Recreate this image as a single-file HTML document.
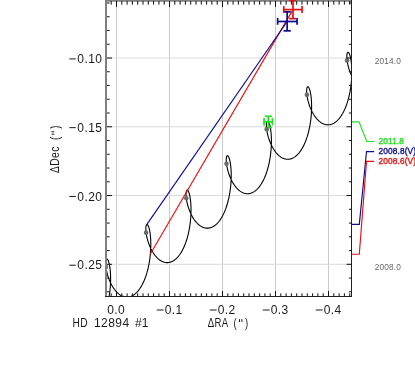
<!DOCTYPE html>
<html><head><meta charset="utf-8"><title>HD 12894 #1</title>
<style>
html,body{margin:0;padding:0;background:#fff;}
body{width:415px;height:391px;overflow:hidden;font-family:"Liberation Sans",sans-serif;}
svg{display:block;will-change:transform;}
text{font-family:"Liberation Sans",sans-serif;}
</style></head><body>
<svg width="415" height="391" viewBox="0 0 415 391">
<rect width="415" height="391" fill="#fff"/>
<defs><clipPath id="c"><rect x="106.0" y="1.0" width="245.5" height="295.5"/></clipPath></defs>
<g stroke="#cfcfcf" stroke-width="1" fill="none">
<line x1="116.50" x2="116.50" y1="1.0" y2="296.5" stroke="#cbcbcb"/>
<line x1="169.50" x2="169.50" y1="1.0" y2="296.5" stroke="#cbcbcb"/>
<line x1="222.50" x2="222.50" y1="1.0" y2="296.5" stroke="#cbcbcb"/>
<line x1="275.50" x2="275.50" y1="1.0" y2="296.5" stroke="#cbcbcb"/>
<line x1="328.50" x2="328.50" y1="1.0" y2="296.5" stroke="#cbcbcb"/>
<line x1="106.0" x2="351.5" y1="58.00" y2="58.00" stroke="#dadada"/>
<line x1="106.0" x2="351.5" y1="126.77" y2="126.77" stroke="#dadada"/>
<line x1="106.0" x2="351.5" y1="195.54" y2="195.54" stroke="#dadada"/>
<line x1="106.0" x2="351.5" y1="264.31" y2="264.31" stroke="#dadada"/>
</g>
<g clip-path="url(#c)">
<path d="M86.70,331.52 L87.13,331.52 L87.55,331.49 L87.97,331.45 L88.40,331.40 L88.82,331.32 L89.24,331.23 L89.66,331.13 L90.08,331.00 L90.50,330.86 L90.92,330.71 L91.34,330.53 L91.75,330.34 L92.17,330.14 L92.58,329.91 L92.99,329.67 L93.40,329.42 L93.81,329.14 L94.21,328.85 L94.61,328.55 L95.01,328.23 L95.41,327.89 L95.80,327.53 L96.19,327.17 L96.58,326.78 L96.96,326.38 L97.34,325.97 L97.72,325.54 L98.09,325.09 L98.46,324.63 L98.83,324.16 L99.19,323.67 L99.54,323.17 L99.90,322.66 L100.25,322.13 L100.59,321.58 L100.93,321.03 L101.26,320.46 L101.59,319.88 L101.92,319.29 L102.24,318.68 L102.55,318.07 L102.86,317.44 L103.16,316.80 L103.46,316.15 L103.75,315.49 L104.04,314.82 L104.32,314.14 L104.60,313.46 L104.87,312.76 L105.13,312.05 L105.39,311.33 L105.64,310.61 L105.89,309.88 L106.13,309.14 L106.36,308.40 L106.59,307.64 L106.81,306.88 L107.03,306.12 L107.24,305.35 L107.44,304.57 L107.64,303.79 L107.83,303.01 L108.01,302.22 L108.19,301.43 L108.36,300.63 L108.53,299.84 L108.68,299.04 L108.84,298.23 L108.98,297.43 L109.12,296.62 L109.25,295.82 L109.38,295.01 L109.50,294.20 L109.61,293.40 L109.72,292.59 L109.82,291.79 L109.92,290.98 L110.00,290.18 L110.09,289.38 L110.16,288.59 L110.23,287.80 L110.30,287.01 L110.35,286.22 L110.41,285.44 L110.45,284.67 L110.49,283.89 L110.53,283.13 L110.55,282.37 L110.58,281.62 L110.60,280.87 L110.61,280.13 L110.61,279.40 L110.62,278.68 L110.61,277.96 L110.60,277.26 L110.59,276.56 L110.57,275.87 L110.55,275.19 L110.52,274.52 L110.49,273.87 L110.45,273.22 L110.41,272.58 L110.36,271.96 L110.31,271.34 L110.26,270.74 L110.20,270.15 L110.14,269.58 L110.08,269.01 L110.01,268.46 L109.94,267.92 L109.86,267.40 L109.79,266.89 L109.71,266.39 L109.62,265.91 L109.54,265.45 L109.45,265.00 L109.36,264.56 L109.27,264.14 L109.18,263.73 L109.08,263.34 L108.98,262.97 L108.88,262.61 L108.78,262.27 L108.68,261.94 L108.58,261.64 L108.48,261.34 L108.37,261.07 L108.27,260.81 L108.16,260.57 L108.06,260.34 L107.96,260.14 L107.85,259.95 L107.75,259.77 L107.65,259.62 L107.54,259.48 L107.44,259.36 L107.34,259.25 L107.24,259.17 L107.14,259.10 L107.05,259.05 L106.95,259.01 L106.86,259.00 L106.77,259.00 L106.68,259.01 L106.60,259.05 L106.51,259.10 L106.43,259.17 L106.36,259.25 L106.28,259.35 L106.21,259.47 L106.14,259.60 L106.08,259.75 L106.02,259.92 L105.96,260.10 L105.91,260.30 L105.86,260.51 L105.82,260.74 L105.78,260.98 L105.74,261.24 L105.71,261.51 L105.69,261.79 L105.67,262.09 L105.65,262.41 L105.64,262.73 L105.64,263.07 L105.64,263.42 L105.64,263.79 L105.65,264.16 L105.67,264.55 L105.69,264.95 L105.72,265.36 L105.76,265.78 L105.80,266.21 L105.85,266.65 L105.90,267.10 L105.96,267.56 L106.03,268.03 L106.10,268.50 L106.18,268.99 L106.26,269.48 L106.35,269.98 L106.45,270.48 L106.56,270.99 L106.67,271.51 L106.79,272.03 L106.92,272.56 L107.05,273.09 L107.19,273.63 L107.33,274.16 L107.49,274.71 L107.65,275.25 L107.81,275.80 L107.99,276.35 L108.17,276.90 L108.35,277.45 L108.55,278.00 L108.75,278.55 L108.96,279.10 L109.17,279.65 L109.39,280.20 L109.62,280.75 L109.85,281.29 L110.09,281.83 L110.34,282.37 L110.59,282.90 L110.85,283.43 L111.12,283.96 L111.39,284.48 L111.67,284.99 L111.95,285.50 L112.24,286.01 L112.54,286.50 L112.84,286.99 L113.15,287.48 L113.46,287.95 L113.78,288.42 L114.10,288.87 L114.43,289.32 L114.77,289.76 L115.10,290.19 L115.45,290.61 L115.80,291.02 L116.15,291.41 L116.51,291.80 L116.87,292.18 L117.23,292.54 L117.61,292.89 L117.98,293.23 L118.36,293.56 L118.74,293.87 L119.12,294.17 L119.51,294.46 L119.90,294.73 L120.30,294.99 L120.70,295.23 L121.10,295.46 L121.50,295.68 L121.91,295.88 L122.31,296.07 L122.72,296.24 L123.14,296.39 L123.55,296.53 L123.97,296.66 L124.38,296.76 L124.80,296.86 L125.22,296.93 L125.64,296.99 L126.06,297.03 L126.48,297.06 L126.91,297.07 L127.33,297.07 L127.75,297.04 L128.17,297.00 L128.60,296.95 L129.02,296.87 L129.44,296.78 L129.86,296.68 L130.28,296.55 L130.70,296.41 L131.12,296.26 L131.54,296.08 L131.95,295.89 L132.37,295.69 L132.78,295.46 L133.19,295.22 L133.60,294.96 L134.01,294.69 L134.41,294.40 L134.81,294.10 L135.21,293.77 L135.61,293.44 L136.00,293.08 L136.39,292.71 L136.78,292.33 L137.16,291.93 L137.54,291.52 L137.92,291.09 L138.29,290.64 L138.66,290.18 L139.03,289.71 L139.39,289.22 L139.75,288.72 L140.10,288.20 L140.45,287.67 L140.79,287.13 L141.13,286.58 L141.46,286.01 L141.79,285.43 L142.12,284.84 L142.44,284.23 L142.75,283.62 L143.06,282.99 L143.36,282.35 L143.66,281.70 L143.95,281.04 L144.24,280.37 L144.52,279.69 L144.80,279.00 L145.07,278.30 L145.33,277.60 L145.59,276.88 L145.84,276.16 L146.09,275.43 L146.33,274.69 L146.57,273.94 L146.79,273.19 L147.02,272.43 L147.23,271.67 L147.44,270.90 L147.64,270.12 L147.84,269.34 L148.03,268.56 L148.21,267.77 L148.39,266.98 L148.56,266.18 L148.73,265.38 L148.88,264.58 L149.04,263.78 L149.18,262.97 L149.32,262.17 L149.45,261.36 L149.58,260.56 L149.70,259.75 L149.81,258.94 L149.92,258.14 L150.02,257.33 L150.11,256.53 L150.20,255.73 L150.29,254.93 L150.36,254.13 L150.43,253.34 L150.49,252.55 L150.55,251.77 L150.60,250.99 L150.65,250.21 L150.69,249.44 L150.72,248.68 L150.75,247.92 L150.78,247.16 L150.79,246.42 L150.81,245.68 L150.81,244.95 L150.81,244.23 L150.81,243.51 L150.80,242.80 L150.79,242.11 L150.77,241.42 L150.75,240.74 L150.72,240.07 L150.69,239.41 L150.65,238.77 L150.61,238.13 L150.56,237.50 L150.51,236.89 L150.46,236.29 L150.40,235.70 L150.34,235.12 L150.28,234.56 L150.21,234.01 L150.14,233.47 L150.06,232.95 L149.99,232.44 L149.91,231.94 L149.82,231.46 L149.74,231.00 L149.65,230.54 L149.56,230.11 L149.47,229.69 L149.37,229.28 L149.28,228.89 L149.18,228.52 L149.08,228.16 L148.98,227.82 L148.88,227.49 L148.78,227.18 L148.68,226.89 L148.57,226.62 L148.47,226.36 L148.36,226.12 L148.26,225.89 L148.15,225.69 L148.05,225.50 L147.95,225.32 L147.84,225.17 L147.74,225.03 L147.64,224.91 L147.54,224.81 L147.44,224.72 L147.34,224.65 L147.25,224.60 L147.15,224.56 L147.06,224.55 L146.97,224.55 L146.88,224.57 L146.80,224.60 L146.71,224.65 L146.63,224.72 L146.56,224.80 L146.48,224.90 L146.41,225.02 L146.34,225.16 L146.28,225.31 L146.22,225.47 L146.16,225.65 L146.11,225.85 L146.06,226.06 L146.02,226.29 L145.98,226.53 L145.94,226.79 L145.91,227.06 L145.89,227.35 L145.87,227.65 L145.85,227.96 L145.84,228.28 L145.84,228.62 L145.84,228.97 L145.84,229.34 L145.85,229.71 L145.87,230.10 L145.89,230.50 L145.92,230.91 L145.96,231.33 L146.00,231.76 L146.05,232.20 L146.10,232.65 L146.16,233.11 L146.23,233.58 L146.30,234.06 L146.38,234.54 L146.46,235.03 L146.55,235.53 L146.65,236.03 L146.76,236.55 L146.87,237.06 L146.99,237.58 L147.12,238.11 L147.25,238.64 L147.39,239.18 L147.53,239.72 L147.69,240.26 L147.85,240.81 L148.01,241.35 L148.19,241.90 L148.37,242.45 L148.56,243.00 L148.75,243.55 L148.95,244.10 L149.16,244.66 L149.37,245.20 L149.59,245.75 L149.82,246.30 L150.05,246.84 L150.29,247.38 L150.54,247.92 L150.79,248.46 L151.05,248.99 L151.32,249.51 L151.59,250.03 L151.87,250.55 L152.15,251.06 L152.44,251.56 L152.74,252.06 L153.04,252.55 L153.35,253.03 L153.66,253.50 L153.98,253.97 L154.30,254.43 L154.63,254.87 L154.97,255.31 L155.30,255.74 L155.65,256.16 L156.00,256.57 L156.35,256.97 L156.71,257.35 L157.07,257.73 L157.44,258.09 L157.81,258.44 L158.18,258.78 L158.56,259.11 L158.94,259.42 L159.33,259.72 L159.71,260.01 L160.11,260.28 L160.50,260.54 L160.90,260.78 L161.30,261.01 L161.70,261.23 L162.11,261.43 L162.52,261.62 L162.93,261.79 L163.34,261.94 L163.75,262.08 L164.17,262.21 L164.58,262.31 L165.00,262.41 L165.42,262.48 L165.84,262.54 L166.26,262.59 L166.68,262.61 L167.11,262.62 L167.53,262.62 L167.95,262.59 L168.38,262.55 L168.80,262.50 L169.22,262.42 L169.64,262.33 L170.06,262.23 L170.48,262.10 L170.90,261.96 L171.32,261.81 L171.74,261.63 L172.16,261.44 L172.57,261.23 L172.98,261.01 L173.39,260.77 L173.80,260.51 L174.21,260.24 L174.61,259.95 L175.01,259.65 L175.41,259.32 L175.81,258.99 L176.20,258.63 L176.59,258.26 L176.98,257.88 L177.36,257.48 L177.74,257.06 L178.12,256.63 L178.49,256.19 L178.86,255.73 L179.23,255.26 L179.59,254.77 L179.95,254.27 L180.30,253.75 L180.65,253.22 L180.99,252.68 L181.33,252.12 L181.66,251.56 L181.99,250.98 L182.32,250.38 L182.64,249.78 L182.95,249.16 L183.26,248.53 L183.56,247.90 L183.86,247.25 L184.16,246.59 L184.44,245.92 L184.72,245.24 L185.00,244.55 L185.27,243.85 L185.53,243.14 L185.79,242.43 L186.05,241.70 L186.29,240.97 L186.53,240.23 L186.77,239.49 L186.99,238.74 L187.22,237.98 L187.43,237.21 L187.64,236.44 L187.84,235.67 L188.04,234.89 L188.23,234.10 L188.41,233.31 L188.59,232.52 L188.76,231.73 L188.93,230.93 L189.08,230.13 L189.24,229.33 L189.38,228.52 L189.52,227.72 L189.65,226.91 L189.78,226.10 L189.90,225.30 L190.01,224.49 L190.12,223.68 L190.22,222.88 L190.31,222.08 L190.40,221.27 L190.48,220.48 L190.56,219.68 L190.63,218.89 L190.69,218.10 L190.75,217.31 L190.80,216.53 L190.85,215.76 L190.89,214.99 L190.92,214.22 L190.95,213.46 L190.98,212.71 L190.99,211.97 L191.01,211.23 L191.01,210.50 L191.01,209.77 L191.01,209.06 L191.00,208.35 L190.99,207.65 L190.97,206.96 L190.95,206.29 L190.92,205.62 L190.89,204.96 L190.85,204.31 L190.81,203.68 L190.76,203.05 L190.71,202.44 L190.66,201.84 L190.60,201.25 L190.54,200.67 L190.48,200.11 L190.41,199.56 L190.34,199.02 L190.26,198.50 L190.19,197.99 L190.10,197.49 L190.02,197.01 L189.94,196.54 L189.85,196.09 L189.76,195.66 L189.67,195.23 L189.57,194.83 L189.48,194.44 L189.38,194.07 L189.28,193.71 L189.18,193.37 L189.08,193.04 L188.98,192.73 L188.87,192.44 L188.77,192.17 L188.67,191.91 L188.56,191.67 L188.46,191.44 L188.35,191.24 L188.25,191.05 L188.15,190.87 L188.04,190.72 L187.94,190.58 L187.84,190.46 L187.74,190.36 L187.64,190.27 L187.54,190.20 L187.45,190.15 L187.35,190.12 L187.26,190.10 L187.17,190.10 L187.08,190.12 L187.00,190.15 L186.91,190.20 L186.83,190.27 L186.75,190.35 L186.68,190.46 L186.61,190.57 L186.54,190.71 L186.48,190.86 L186.42,191.02 L186.36,191.20 L186.31,191.40 L186.26,191.61 L186.22,191.84 L186.18,192.08 L186.14,192.34 L186.11,192.61 L186.09,192.90 L186.07,193.20 L186.05,193.51 L186.04,193.84 L186.04,194.18 L186.04,194.53 L186.04,194.89 L186.05,195.27 L186.07,195.66 L186.09,196.05 L186.12,196.46 L186.16,196.88 L186.20,197.32 L186.25,197.76 L186.30,198.21 L186.36,198.66 L186.42,199.13 L186.50,199.61 L186.58,200.09 L186.66,200.58 L186.75,201.08 L186.85,201.59 L186.96,202.10 L187.07,202.62 L187.19,203.14 L187.32,203.67 L187.45,204.20 L187.59,204.73 L187.73,205.27 L187.89,205.81 L188.05,206.36 L188.21,206.91 L188.39,207.45 L188.57,208.00 L188.76,208.56 L188.95,209.11 L189.15,209.66 L189.36,210.21 L189.57,210.76 L189.79,211.31 L190.02,211.85 L190.25,212.40 L190.49,212.94 L190.74,213.48 L190.99,214.01 L191.25,214.54 L191.52,215.07 L191.79,215.59 L192.07,216.10 L192.35,216.61 L192.64,217.11 L192.94,217.61 L193.24,218.10 L193.55,218.58 L193.86,219.06 L194.18,219.52 L194.50,219.98 L194.83,220.43 L195.17,220.86 L195.51,221.29 L195.85,221.71 L196.20,222.12 L196.55,222.52 L196.91,222.91 L197.27,223.28 L197.64,223.64 L198.01,224.00 L198.38,224.33 L198.76,224.66 L199.14,224.97 L199.53,225.27 L199.92,225.56 L200.31,225.83 L200.70,226.09 L201.10,226.34 L201.50,226.57 L201.90,226.78 L202.31,226.98 L202.72,227.17 L203.13,227.34 L203.54,227.49 L203.95,227.63 L204.37,227.76 L204.78,227.87 L205.20,227.96 L205.62,228.03 L206.04,228.09 L206.46,228.14 L206.89,228.16 L207.31,228.17 L207.73,228.17 L208.15,228.14 L208.58,228.10 L209.00,228.05 L209.42,227.97 L209.84,227.88 L210.27,227.78 L210.69,227.65 L211.11,227.51 L211.52,227.36 L211.94,227.18 L212.36,226.99 L212.77,226.78 L213.18,226.56 L213.59,226.32 L214.00,226.06 L214.41,225.79 L214.81,225.50 L215.22,225.19 L215.61,224.87 L216.01,224.53 L216.40,224.18 L216.79,223.81 L217.18,223.43 L217.57,223.03 L217.95,222.61 L218.32,222.18 L218.70,221.74 L219.06,221.28 L219.43,220.80 L219.79,220.32 L220.15,219.81 L220.50,219.30 L220.85,218.77 L221.19,218.23 L221.53,217.67 L221.87,217.10 L222.19,216.52 L222.52,215.93 L222.84,215.33 L223.15,214.71 L223.46,214.08 L223.77,213.44 L224.06,212.79 L224.36,212.13 L224.64,211.46 L224.93,210.78 L225.20,210.10 L225.47,209.40 L225.74,208.69 L225.99,207.97 L226.25,207.25 L226.49,206.52 L226.73,205.78 L226.97,205.04 L227.19,204.28 L227.42,203.52 L227.63,202.76 L227.84,201.99 L228.04,201.21 L228.24,200.43 L228.43,199.65 L228.61,198.86 L228.79,198.07 L228.96,197.27 L229.13,196.47 L229.28,195.67 L229.44,194.87 L229.58,194.07 L229.72,193.26 L229.85,192.45 L229.98,191.65 L230.10,190.84 L230.21,190.03 L230.32,189.23 L230.42,188.42 L230.51,187.62 L230.60,186.82 L230.68,186.02 L230.76,185.23 L230.83,184.43 L230.89,183.65 L230.95,182.86 L231.00,182.08 L231.05,181.30 L231.09,180.53 L231.12,179.77 L231.15,179.01 L231.18,178.26 L231.19,177.51 L231.20,176.77 L231.21,176.04 L231.21,175.32 L231.21,174.60 L231.20,173.90 L231.19,173.20 L231.17,172.51 L231.15,171.83 L231.12,171.16 L231.08,170.51 L231.05,169.86 L231.01,169.22 L230.96,168.60 L230.91,167.98 L230.86,167.38 L230.80,166.79 L230.74,166.22 L230.67,165.65 L230.61,165.10 L230.54,164.57 L230.46,164.04 L230.38,163.53 L230.30,163.04 L230.22,162.56 L230.14,162.09 L230.05,161.64 L229.96,161.20 L229.87,160.78 L229.77,160.38 L229.68,159.99 L229.58,159.61 L229.48,159.26 L229.38,158.92 L229.28,158.59 L229.18,158.28 L229.07,157.99 L228.97,157.72 L228.86,157.46 L228.76,157.22 L228.66,156.99 L228.55,156.78 L228.45,156.60 L228.34,156.42 L228.24,156.27 L228.14,156.13 L228.04,156.01 L227.94,155.91 L227.84,155.82 L227.74,155.75 L227.64,155.70 L227.55,155.67 L227.46,155.65 L227.37,155.65 L227.28,155.67 L227.19,155.70 L227.11,155.75 L227.03,155.82 L226.95,155.91 L226.88,156.01 L226.81,156.12 L226.74,156.26 L226.68,156.41 L226.62,156.57 L226.56,156.76 L226.51,156.95 L226.46,157.17 L226.42,157.39 L226.38,157.64 L226.34,157.89 L226.31,158.16 L226.29,158.45 L226.27,158.75 L226.25,159.06 L226.24,159.39 L226.23,159.73 L226.24,160.08 L226.24,160.44 L226.25,160.82 L226.27,161.21 L226.29,161.61 L226.32,162.02 L226.36,162.44 L226.40,162.87 L226.44,163.31 L226.50,163.76 L226.56,164.22 L226.62,164.69 L226.70,165.16 L226.78,165.65 L226.86,166.14 L226.95,166.64 L227.05,167.14 L227.16,167.65 L227.27,168.17 L227.39,168.69 L227.52,169.22 L227.65,169.75 L227.79,170.29 L227.93,170.83 L228.09,171.37 L228.25,171.91 L228.41,172.46 L228.59,173.01 L228.77,173.56 L228.96,174.11 L229.15,174.66 L229.35,175.21 L229.56,175.76 L229.77,176.31 L229.99,176.86 L230.22,177.41 L230.45,177.95 L230.69,178.49 L230.94,179.03 L231.20,179.56 L231.45,180.09 L231.72,180.62 L231.99,181.14 L232.27,181.65 L232.56,182.16 L232.85,182.67 L233.14,183.16 L233.44,183.65 L233.75,184.13 L234.06,184.61 L234.38,185.07 L234.71,185.53 L235.03,185.98 L235.37,186.42 L235.71,186.85 L236.05,187.27 L236.40,187.67 L236.75,188.07 L237.11,188.46 L237.47,188.83 L237.84,189.20 L238.21,189.55 L238.58,189.89 L238.96,190.21 L239.34,190.53 L239.73,190.83 L240.12,191.11 L240.51,191.38 L240.90,191.64 L241.30,191.89 L241.70,192.12 L242.10,192.33 L242.51,192.53 L242.92,192.72 L243.33,192.89 L243.74,193.05 L244.15,193.19 L244.57,193.31 L244.99,193.42 L245.40,193.51 L245.82,193.58 L246.24,193.64 L246.67,193.69 L247.09,193.71 L247.51,193.72 L247.93,193.72 L248.36,193.69 L248.78,193.65 L249.20,193.60 L249.62,193.52 L250.05,193.43 L250.47,193.33 L250.89,193.20 L251.31,193.06 L251.73,192.91 L252.14,192.73 L252.56,192.54 L252.97,192.33 L253.39,192.11 L253.80,191.87 L254.20,191.61 L254.61,191.34 L255.02,191.05 L255.42,190.74 L255.82,190.42 L256.21,190.08 L256.61,189.73 L257.00,189.36 L257.38,188.98 L257.77,188.58 L258.15,188.16 L258.52,187.73 L258.90,187.29 L259.27,186.83 L259.63,186.35 L259.99,185.86 L260.35,185.36 L260.70,184.85 L261.05,184.32 L261.39,183.77 L261.73,183.22 L262.07,182.65 L262.40,182.07 L262.72,181.48 L263.04,180.87 L263.35,180.26 L263.66,179.63 L263.97,178.99 L264.26,178.34 L264.56,177.68 L264.84,177.01 L265.13,176.33 L265.40,175.64 L265.67,174.94 L265.94,174.24 L266.19,173.52 L266.45,172.80 L266.69,172.07 L266.93,171.33 L267.17,170.58 L267.39,169.83 L267.62,169.07 L267.83,168.31 L268.04,167.54 L268.24,166.76 L268.44,165.98 L268.63,165.20 L268.81,164.41 L268.99,163.61 L269.16,162.82 L269.33,162.02 L269.48,161.22 L269.64,160.42 L269.78,159.61 L269.92,158.81 L270.05,158.00 L270.18,157.19 L270.30,156.39 L270.41,155.58 L270.52,154.78 L270.62,153.97 L270.71,153.17 L270.80,152.37 L270.88,151.57 L270.96,150.77 L271.03,149.98 L271.09,149.19 L271.15,148.41 L271.20,147.63 L271.25,146.85 L271.29,146.08 L271.32,145.32 L271.35,144.56 L271.37,143.80 L271.39,143.06 L271.40,142.32 L271.41,141.59 L271.41,140.87 L271.41,140.15 L271.40,139.44 L271.39,138.75 L271.37,138.06 L271.34,137.38 L271.32,136.71 L271.28,136.05 L271.25,135.41 L271.21,134.77 L271.16,134.15 L271.11,133.53 L271.06,132.93 L271.00,132.34 L270.94,131.77 L270.87,131.20 L270.81,130.65 L270.73,130.11 L270.66,129.59 L270.58,129.08 L270.50,128.59 L270.42,128.11 L270.33,127.64 L270.25,127.19 L270.16,126.75 L270.06,126.33 L269.97,125.93 L269.87,125.54 L269.78,125.16 L269.68,124.81 L269.58,124.46 L269.48,124.14 L269.37,123.83 L269.27,123.54 L269.17,123.26 L269.06,123.01 L268.96,122.77 L268.85,122.54 L268.75,122.33 L268.65,122.14 L268.54,121.97 L268.44,121.82 L268.34,121.68 L268.24,121.56 L268.14,121.46 L268.04,121.37 L267.94,121.30 L267.84,121.25 L267.75,121.22 L267.66,121.20 L267.57,121.20 L267.48,121.22 L267.39,121.25 L267.31,121.30 L267.23,121.37 L267.15,121.46 L267.08,121.56 L267.01,121.68 L266.94,121.81 L266.88,121.96 L266.82,122.13 L266.76,122.31 L266.71,122.51 L266.66,122.72 L266.62,122.95 L266.58,123.19 L266.54,123.45 L266.51,123.72 L266.49,124.00 L266.46,124.30 L266.45,124.62 L266.44,124.94 L266.43,125.28 L266.43,125.63 L266.44,126.00 L266.45,126.37 L266.47,126.76 L266.49,127.16 L266.52,127.57 L266.56,127.99 L266.60,128.42 L266.64,128.86 L266.70,129.31 L266.76,129.77 L266.82,130.24 L266.90,130.72 L266.98,131.20 L267.06,131.69 L267.15,132.19 L267.25,132.69 L267.36,133.21 L267.47,133.72 L267.59,134.24 L267.72,134.77 L267.85,135.30 L267.99,135.84 L268.13,136.38 L268.29,136.92 L268.45,137.47 L268.61,138.01 L268.79,138.56 L268.97,139.11 L269.16,139.66 L269.35,140.21 L269.55,140.77 L269.76,141.32 L269.97,141.87 L270.19,142.41 L270.42,142.96 L270.65,143.50 L270.90,144.04 L271.14,144.58 L271.40,145.12 L271.66,145.65 L271.92,146.17 L272.19,146.69 L272.47,147.21 L272.76,147.72 L273.05,148.22 L273.34,148.72 L273.64,149.21 L273.95,149.69 L274.26,150.16 L274.58,150.63 L274.91,151.08 L275.23,151.53 L275.57,151.97 L275.91,152.40 L276.25,152.82 L276.60,153.23 L276.95,153.62 L277.31,154.01 L277.67,154.39 L278.04,154.75 L278.41,155.10 L278.78,155.44 L279.16,155.76 L279.54,156.08 L279.93,156.38 L280.32,156.66 L280.71,156.94 L281.10,157.20 L281.50,157.44 L281.90,157.67 L282.31,157.89 L282.71,158.09 L283.12,158.27 L283.53,158.44 L283.94,158.60 L284.36,158.74 L284.77,158.86 L285.19,158.97 L285.61,159.06 L286.03,159.14 L286.45,159.19 L286.87,159.24 L287.29,159.26 L287.71,159.27 L288.13,159.27 L288.56,159.24 L288.98,159.20 L289.40,159.15 L289.83,159.07 L290.25,158.98 L290.67,158.88 L291.09,158.75 L291.51,158.61 L291.93,158.46 L292.34,158.28 L292.76,158.09 L293.17,157.88 L293.59,157.66 L294.00,157.42 L294.41,157.16 L294.81,156.89 L295.22,156.60 L295.62,156.29 L296.02,155.97 L296.41,155.63 L296.81,155.28 L297.20,154.91 L297.58,154.52 L297.97,154.12 L298.35,153.71 L298.72,153.28 L299.10,152.83 L299.47,152.37 L299.83,151.90 L300.19,151.41 L300.55,150.91 L300.90,150.39 L301.25,149.86 L301.59,149.32 L301.93,148.77 L302.27,148.20 L302.60,147.62 L302.92,147.03 L303.24,146.42 L303.55,145.80 L303.86,145.18 L304.17,144.54 L304.47,143.89 L304.76,143.23 L305.04,142.56 L305.33,141.88 L305.60,141.19 L305.87,140.49 L306.14,139.78 L306.39,139.07 L306.65,138.34 L306.89,137.61 L307.13,136.87 L307.37,136.13 L307.59,135.38 L307.82,134.62 L308.03,133.85 L308.24,133.08 L308.44,132.31 L308.64,131.53 L308.83,130.74 L309.01,129.95 L309.19,129.16 L309.36,128.37 L309.53,127.57 L309.68,126.77 L309.84,125.96 L309.98,125.16 L310.12,124.35 L310.25,123.55 L310.38,122.74 L310.50,121.93 L310.61,121.13 L310.72,120.32 L310.82,119.52 L310.91,118.71 L311.00,117.91 L311.08,117.11 L311.16,116.32 L311.23,115.53 L311.29,114.74 L311.35,113.95 L311.40,113.17 L311.45,112.40 L311.49,111.63 L311.52,110.86 L311.55,110.10 L311.57,109.35 L311.59,108.61 L311.60,107.87 L311.61,107.14 L311.61,106.41 L311.61,105.70 L311.60,104.99 L311.59,104.29 L311.57,103.61 L311.54,102.93 L311.52,102.26 L311.48,101.60 L311.45,100.95 L311.40,100.32 L311.36,99.69 L311.31,99.08 L311.26,98.48 L311.20,97.89 L311.14,97.31 L311.07,96.75 L311.00,96.20 L310.93,95.66 L310.86,95.14 L310.78,94.63 L310.70,94.13 L310.62,93.65 L310.53,93.19 L310.44,92.74 L310.35,92.30 L310.26,91.88 L310.17,91.48 L310.07,91.09 L309.98,90.71 L309.88,90.35 L309.78,90.01 L309.67,89.69 L309.57,89.38 L309.47,89.09 L309.37,88.81 L309.26,88.56 L309.16,88.31 L309.05,88.09 L308.95,87.88 L308.84,87.69 L308.74,87.52 L308.64,87.37 L308.54,87.23 L308.43,87.11 L308.33,87.01 L308.24,86.92 L308.14,86.85 L308.04,86.80 L307.95,86.77 L307.85,86.75 L307.76,86.75 L307.68,86.77 L307.59,86.80 L307.51,86.85 L307.43,86.92 L307.35,87.01 L307.28,87.11 L307.21,87.23 L307.14,87.36 L307.08,87.51 L307.02,87.68 L306.96,87.86 L306.91,88.06 L306.86,88.27 L306.81,88.50 L306.77,88.74 L306.74,89.00 L306.71,89.27 L306.68,89.55 L306.66,89.85 L306.65,90.17 L306.64,90.49 L306.63,90.83 L306.63,91.18 L306.64,91.55 L306.65,91.93 L306.67,92.31 L306.69,92.71 L306.72,93.12 L306.76,93.54 L306.80,93.97 L306.84,94.41 L306.90,94.86 L306.96,95.32 L307.02,95.79 L307.10,96.27 L307.18,96.75 L307.26,97.24 L307.35,97.74 L307.45,98.25 L307.56,98.76 L307.67,99.28 L307.79,99.80 L307.92,100.33 L308.05,100.86 L308.19,101.39 L308.33,101.93 L308.49,102.47 L308.65,103.02 L308.81,103.57 L308.99,104.12 L309.17,104.67 L309.36,105.22 L309.55,105.77 L309.75,106.32 L309.96,106.87 L310.17,107.42 L310.39,107.97 L310.62,108.51 L310.86,109.06 L311.10,109.60 L311.34,110.14 L311.60,110.67 L311.86,111.20 L312.12,111.73 L312.39,112.25 L312.67,112.76 L312.96,113.27 L313.25,113.77 L313.54,114.27 L313.84,114.76 L314.15,115.24 L314.46,115.71 L314.78,116.18 L315.11,116.64 L315.44,117.09 L315.77,117.52 L316.11,117.95 L316.45,118.37 L316.80,118.78 L317.15,119.18 L317.51,119.56 L317.87,119.94 L318.24,120.30 L318.61,120.65 L318.99,120.99 L319.36,121.32 L319.75,121.63 L320.13,121.93 L320.52,122.22 L320.91,122.49 L321.31,122.75 L321.70,122.99 L322.10,123.22 L322.51,123.44 L322.91,123.64 L323.32,123.82 L323.73,123.99 L324.14,124.15 L324.56,124.29 L324.97,124.41 L325.39,124.52 L325.81,124.61 L326.23,124.69 L326.65,124.75 L327.07,124.79 L327.49,124.82 L327.91,124.83 L328.34,124.82 L328.76,124.80 L329.18,124.76 L329.60,124.70 L330.03,124.62 L330.45,124.53 L330.87,124.43 L331.29,124.30 L331.71,124.16 L332.13,124.01 L332.55,123.83 L332.96,123.64 L333.38,123.43 L333.79,123.21 L334.20,122.97 L334.61,122.71 L335.01,122.44 L335.42,122.15 L335.82,121.84 L336.22,121.52 L336.61,121.18 L337.01,120.83 L337.40,120.46 L337.79,120.07 L338.17,119.67 L338.55,119.26 L338.93,118.83 L339.30,118.38 L339.67,117.92 L340.03,117.45 L340.39,116.96 L340.75,116.46 L341.10,115.94 L341.45,115.41 L341.80,114.87 L342.13,114.31 L342.47,113.75 L342.80,113.17 L343.12,112.57 L343.44,111.97 L343.76,111.35 L344.06,110.72 L344.37,110.08 L344.67,109.44 L344.96,108.78 L345.25,108.10 L345.53,107.43 L345.80,106.74 L346.07,106.04 L346.34,105.33 L346.59,104.61 L346.85,103.89 L347.09,103.16 L347.33,102.42 L347.57,101.67 L347.80,100.92 L348.02,100.16 L348.23,99.40 L348.44,98.63 L348.64,97.85 L348.84,97.07 L349.03,96.29 L349.21,95.50 L349.39,94.71 L349.56,93.91 L349.73,93.11 L349.88,92.31 L350.04,91.51 L350.18,90.71 L350.32,89.90 L350.45,89.09 L350.58,88.29 L350.70,87.48 L350.81,86.67 L350.92,85.87 L351.02,85.06 L351.11,84.26 L351.20,83.46 L351.28,82.66 L351.36,81.87 L351.43,81.07 L351.49,80.28 L351.55,79.50 L351.60,78.72 L351.65,77.94 L351.69,77.17 L351.72,76.41 L351.75,75.65 L351.77,74.90 L351.79,74.15 L351.80,73.41 L351.81,72.68 L351.81,71.96 L351.81,71.24 L351.80,70.54 L351.78,69.84 L351.77,69.15 L351.74,68.47 L351.71,67.81 L351.68,67.15 L351.64,66.50 L351.60,65.86 L351.56,65.24 L351.51,64.63 L351.45,64.03 L351.40,63.44 L351.34,62.86 L351.27,62.30 L351.20,61.75 L351.13,61.21 L351.06,60.69 L350.98,60.18 L350.90,59.68 L350.82,59.20 L350.73,58.74 L350.64,58.28 L350.55,57.85 L350.46,57.43 L350.37,57.02 L350.27,56.63 L350.17,56.26 L350.07,55.90 L349.97,55.56 L349.87,55.24 L349.77,54.93 L349.67,54.64 L349.56,54.36 L349.46,54.11 L349.36,53.86 L349.25,53.64 L349.15,53.43 L349.04,53.24 L348.94,53.07 L348.84,52.92 L348.73,52.78 L348.63,52.66 L348.53,52.56 L348.43,52.47 L348.34,52.40 L348.24,52.35 L348.15,52.32 L348.05,52.30 L347.96,52.30 L347.88,52.32 L347.79,52.35 L347.71,52.41 L347.63,52.47 L347.55,52.56 L347.48,52.66 L347.41,52.78 L347.34,52.91 L347.27,53.06 L347.21,53.23 L347.16,53.41 L347.11,53.61 L347.06,53.82 L347.01,54.05 L346.97,54.29 L346.94,54.55 L346.91,54.82 L346.88,55.11 L346.86,55.41 L346.85,55.72 L346.84,56.05 L346.83,56.39 L346.83,56.74 L346.84,57.10 L346.85,57.48 L346.87,57.87 L346.89,58.26 L346.92,58.67 L346.95,59.10 L347.00,59.53 L347.04,59.97 L347.10,60.42 L347.16,60.88 L347.22,61.34 L347.30,61.82 L347.37,62.31 L347.46,62.80 L347.55,63.30 L347.65,63.80 L347.76,64.31 L347.87,64.83 L347.99,65.35 L348.12,65.88 L348.25,66.41 L348.39,66.95 L348.53,67.49 L348.69,68.03 L348.85,68.57 L349.01,69.12 L349.19,69.67 L349.37,70.22 L349.56,70.77 L349.75,71.32 L349.95,71.87 L350.16,72.42 L350.37,72.97 L350.59,73.52 L350.82,74.07 L351.06,74.61 L351.30,75.15 L351.54,75.69 L351.80,76.22 L352.06,76.75 L352.32,77.28 L352.59,77.80 L352.87,78.31 L353.16,78.82 L353.45,79.33 L353.74,79.82 L354.05,80.31 L354.35,80.79 L354.67,81.27 L354.98,81.73 L355.31,82.19 L355.64,82.64 L355.97,83.08 L356.31,83.51 L356.65,83.92 L357.00,84.33 L357.36,84.73 L357.71,85.12 L358.08,85.49 L358.44,85.85 L358.81,86.20 L359.19,86.54 L359.56,86.87 L359.95,87.18 L360.33,87.48 L360.72,87.77 L361.11,88.04 L361.51,88.30 L361.90,88.54 L362.31,88.77 L362.71,88.99 L363.11,89.19 L363.52,89.38 L363.93,89.55 L364.34,89.70 L364.76,89.84 L365.17,89.96 L365.59,90.07 L366.01,90.16 L366.43,90.24 L366.85,90.30 L367.27,90.34 L367.69,90.37 L368.11,90.38 L368.54,90.37 L368.96,90.35 L369.38,90.31 L369.81,90.25 L370.23,90.18 L370.65,90.08 L371.07,89.98 L371.49,89.85 L371.91,89.71 L372.33,89.56 L372.75,89.38 L373.16,89.19 L373.58,88.98 L373.99,88.76 L374.40,88.52 L374.81,88.26 L375.22,87.99 L375.62,87.70 L376.02,87.39 L376.42,87.07 L376.82,86.73 L377.21,86.38 L377.60,86.01 L377.99,85.62 L378.37,85.22 L378.75,84.81 L379.13,84.38 L379.50,83.93 L379.87,83.47 L380.23,83.00 L380.60,82.51 L380.95,82.01 L381.30,81.49 L381.65,80.96 L382.00,80.42 L382.34,79.86 L382.67,79.29 L383.00,78.71 L383.32,78.12 L383.64,77.51 L383.96,76.90 L384.26,76.27 L384.57,75.63 L384.87,74.98 L385.16,74.32 L385.45,73.65 L385.73,72.97 L386.00,72.28 L386.27,71.58 L386.54,70.88 L386.80,70.16 L387.05,69.44 L387.29,68.71 L387.53,67.97 L387.77,67.22 L388.00,66.47 L388.22,65.71 L388.43,64.94 L388.64,64.17 L388.84,63.40 L389.04,62.62 L389.23,61.83 L389.41,61.05 L389.59,60.25 L389.76,59.46 L389.93,58.66 L390.08,57.86 L390.24,57.06 L390.38,56.25 L390.52,55.45 L390.65,54.64 L390.78,53.83 L390.90,53.03 L391.01,52.22" fill="none" stroke="#000" stroke-width="1.1" stroke-linejoin="round"/>
<line x1="150.2" y1="254.3" x2="293.0" y2="9.6" stroke="#e81010" stroke-width="1.15"/>
<line x1="146.9" y1="224.3" x2="287.15" y2="21.5" stroke="#0c0c92" stroke-width="1.15"/>
</g>
<g stroke="#0c0c92" stroke-width="1.7" fill="none"><line x1="277.65000000000003" x2="297.04999999999995" y1="21.5" y2="21.5"/><line x1="287.15" x2="287.15" y1="11.85" y2="30.849999999999998"/><line x1="277.65000000000003" x2="277.65000000000003" y1="17.9" y2="24.8"/><line x1="297.04999999999995" x2="297.04999999999995" y1="17.9" y2="24.8"/><line x1="283.5" x2="290.8" y1="11.85" y2="11.85"/><line x1="283.5" x2="290.8" y1="30.849999999999998" y2="30.849999999999998"/></g>
<g stroke="#22e022" stroke-width="1.7" fill="none"><line x1="264.05" x2="272.45" y1="121.8" y2="121.8"/><line x1="268.4" x2="268.4" y1="116.25" y2="127.65"/><line x1="264.05" x2="264.05" y1="118.1" y2="125.5"/><line x1="272.45" x2="272.45" y1="118.1" y2="125.5"/><line x1="264.9" x2="271.9" y1="116.25" y2="116.25"/><line x1="264.9" x2="271.9" y1="127.65" y2="127.65"/></g>
<g fill="#6c6c6c" clip-path="url(#c)">
<circle cx="105.90" cy="267.10" r="2.3"/><circle cx="146.10" cy="232.65" r="2.3"/><circle cx="186.30" cy="198.21" r="2.3"/><circle cx="226.50" cy="163.76" r="2.3"/><circle cx="266.70" cy="129.31" r="2.3"/><circle cx="306.90" cy="94.86" r="2.3"/><circle cx="347.10" cy="60.42" r="2.3"/>
</g>
<!-- frame -->
<line x1="106" x2="106" y1="0" y2="297" stroke="#808080" stroke-width="2"/>
<line x1="105" x2="352" y1="0.8" y2="0.8" stroke="#808080" stroke-width="1.8"/>
<line x1="351.5" x2="351.5" y1="0" y2="297" stroke="#222" stroke-width="1"/>
<line x1="105" x2="352" y1="296.5" y2="296.5" stroke="#222" stroke-width="1"/>
<g stroke="#111" stroke-width="1" fill="none">
<line x1="111.20" x2="111.20" y1="1.0" y2="4.7"/>
<line x1="111.20" x2="111.20" y1="296.5" y2="293.3"/>
<line x1="116.50" x2="116.50" y1="1.0" y2="7.0"/>
<line x1="116.50" x2="116.50" y1="296.5" y2="291.0"/>
<line x1="121.80" x2="121.80" y1="1.0" y2="4.7"/>
<line x1="121.80" x2="121.80" y1="296.5" y2="293.3"/>
<line x1="127.10" x2="127.10" y1="1.0" y2="4.7"/>
<line x1="127.10" x2="127.10" y1="296.5" y2="293.3"/>
<line x1="132.40" x2="132.40" y1="1.0" y2="4.7"/>
<line x1="132.40" x2="132.40" y1="296.5" y2="293.3"/>
<line x1="137.70" x2="137.70" y1="1.0" y2="4.7"/>
<line x1="137.70" x2="137.70" y1="296.5" y2="293.3"/>
<line x1="143.00" x2="143.00" y1="1.0" y2="4.7"/>
<line x1="143.00" x2="143.00" y1="296.5" y2="293.3"/>
<line x1="148.30" x2="148.30" y1="1.0" y2="4.7"/>
<line x1="148.30" x2="148.30" y1="296.5" y2="293.3"/>
<line x1="153.60" x2="153.60" y1="1.0" y2="4.7"/>
<line x1="153.60" x2="153.60" y1="296.5" y2="293.3"/>
<line x1="158.90" x2="158.90" y1="1.0" y2="4.7"/>
<line x1="158.90" x2="158.90" y1="296.5" y2="293.3"/>
<line x1="164.20" x2="164.20" y1="1.0" y2="4.7"/>
<line x1="164.20" x2="164.20" y1="296.5" y2="293.3"/>
<line x1="169.50" x2="169.50" y1="1.0" y2="7.0"/>
<line x1="169.50" x2="169.50" y1="296.5" y2="291.0"/>
<line x1="174.80" x2="174.80" y1="1.0" y2="4.7"/>
<line x1="174.80" x2="174.80" y1="296.5" y2="293.3"/>
<line x1="180.10" x2="180.10" y1="1.0" y2="4.7"/>
<line x1="180.10" x2="180.10" y1="296.5" y2="293.3"/>
<line x1="185.40" x2="185.40" y1="1.0" y2="4.7"/>
<line x1="185.40" x2="185.40" y1="296.5" y2="293.3"/>
<line x1="190.70" x2="190.70" y1="1.0" y2="4.7"/>
<line x1="190.70" x2="190.70" y1="296.5" y2="293.3"/>
<line x1="196.00" x2="196.00" y1="1.0" y2="4.7"/>
<line x1="196.00" x2="196.00" y1="296.5" y2="293.3"/>
<line x1="201.30" x2="201.30" y1="1.0" y2="4.7"/>
<line x1="201.30" x2="201.30" y1="296.5" y2="293.3"/>
<line x1="206.60" x2="206.60" y1="1.0" y2="4.7"/>
<line x1="206.60" x2="206.60" y1="296.5" y2="293.3"/>
<line x1="211.90" x2="211.90" y1="1.0" y2="4.7"/>
<line x1="211.90" x2="211.90" y1="296.5" y2="293.3"/>
<line x1="217.20" x2="217.20" y1="1.0" y2="4.7"/>
<line x1="217.20" x2="217.20" y1="296.5" y2="293.3"/>
<line x1="222.50" x2="222.50" y1="1.0" y2="7.0"/>
<line x1="222.50" x2="222.50" y1="296.5" y2="291.0"/>
<line x1="227.80" x2="227.80" y1="1.0" y2="4.7"/>
<line x1="227.80" x2="227.80" y1="296.5" y2="293.3"/>
<line x1="233.10" x2="233.10" y1="1.0" y2="4.7"/>
<line x1="233.10" x2="233.10" y1="296.5" y2="293.3"/>
<line x1="238.40" x2="238.40" y1="1.0" y2="4.7"/>
<line x1="238.40" x2="238.40" y1="296.5" y2="293.3"/>
<line x1="243.70" x2="243.70" y1="1.0" y2="4.7"/>
<line x1="243.70" x2="243.70" y1="296.5" y2="293.3"/>
<line x1="249.00" x2="249.00" y1="1.0" y2="4.7"/>
<line x1="249.00" x2="249.00" y1="296.5" y2="293.3"/>
<line x1="254.30" x2="254.30" y1="1.0" y2="4.7"/>
<line x1="254.30" x2="254.30" y1="296.5" y2="293.3"/>
<line x1="259.60" x2="259.60" y1="1.0" y2="4.7"/>
<line x1="259.60" x2="259.60" y1="296.5" y2="293.3"/>
<line x1="264.90" x2="264.90" y1="1.0" y2="4.7"/>
<line x1="264.90" x2="264.90" y1="296.5" y2="293.3"/>
<line x1="270.20" x2="270.20" y1="1.0" y2="4.7"/>
<line x1="270.20" x2="270.20" y1="296.5" y2="293.3"/>
<line x1="275.50" x2="275.50" y1="1.0" y2="7.0"/>
<line x1="275.50" x2="275.50" y1="296.5" y2="291.0"/>
<line x1="280.80" x2="280.80" y1="1.0" y2="4.7"/>
<line x1="280.80" x2="280.80" y1="296.5" y2="293.3"/>
<line x1="286.10" x2="286.10" y1="1.0" y2="4.7"/>
<line x1="286.10" x2="286.10" y1="296.5" y2="293.3"/>
<line x1="291.40" x2="291.40" y1="1.0" y2="4.7"/>
<line x1="291.40" x2="291.40" y1="296.5" y2="293.3"/>
<line x1="296.70" x2="296.70" y1="1.0" y2="4.7"/>
<line x1="296.70" x2="296.70" y1="296.5" y2="293.3"/>
<line x1="302.00" x2="302.00" y1="1.0" y2="4.7"/>
<line x1="302.00" x2="302.00" y1="296.5" y2="293.3"/>
<line x1="307.30" x2="307.30" y1="1.0" y2="4.7"/>
<line x1="307.30" x2="307.30" y1="296.5" y2="293.3"/>
<line x1="312.60" x2="312.60" y1="1.0" y2="4.7"/>
<line x1="312.60" x2="312.60" y1="296.5" y2="293.3"/>
<line x1="317.90" x2="317.90" y1="1.0" y2="4.7"/>
<line x1="317.90" x2="317.90" y1="296.5" y2="293.3"/>
<line x1="323.20" x2="323.20" y1="1.0" y2="4.7"/>
<line x1="323.20" x2="323.20" y1="296.5" y2="293.3"/>
<line x1="328.50" x2="328.50" y1="1.0" y2="7.0"/>
<line x1="328.50" x2="328.50" y1="296.5" y2="291.0"/>
<line x1="333.80" x2="333.80" y1="1.0" y2="4.7"/>
<line x1="333.80" x2="333.80" y1="296.5" y2="293.3"/>
<line x1="339.10" x2="339.10" y1="1.0" y2="4.7"/>
<line x1="339.10" x2="339.10" y1="296.5" y2="293.3"/>
<line x1="344.40" x2="344.40" y1="1.0" y2="4.7"/>
<line x1="344.40" x2="344.40" y1="296.5" y2="293.3"/>
<line x1="349.70" x2="349.70" y1="1.0" y2="4.7"/>
<line x1="349.70" x2="349.70" y1="296.5" y2="293.3"/>
<line x1="107.0" x2="109.6" y1="2.98" y2="2.98"/>
<line x1="351.5" x2="348.9" y1="2.98" y2="2.98"/>
<line x1="107.0" x2="109.6" y1="16.74" y2="16.74"/>
<line x1="351.5" x2="348.9" y1="16.74" y2="16.74"/>
<line x1="107.0" x2="109.6" y1="30.49" y2="30.49"/>
<line x1="351.5" x2="348.9" y1="30.49" y2="30.49"/>
<line x1="107.0" x2="109.6" y1="44.25" y2="44.25"/>
<line x1="351.5" x2="348.9" y1="44.25" y2="44.25"/>
<line x1="107.0" x2="112.0" y1="58.00" y2="58.00"/>
<line x1="351.5" x2="346.5" y1="58.00" y2="58.00"/>
<line x1="107.0" x2="109.6" y1="71.75" y2="71.75"/>
<line x1="351.5" x2="348.9" y1="71.75" y2="71.75"/>
<line x1="107.0" x2="109.6" y1="85.51" y2="85.51"/>
<line x1="351.5" x2="348.9" y1="85.51" y2="85.51"/>
<line x1="107.0" x2="109.6" y1="99.26" y2="99.26"/>
<line x1="351.5" x2="348.9" y1="99.26" y2="99.26"/>
<line x1="107.0" x2="109.6" y1="113.02" y2="113.02"/>
<line x1="351.5" x2="348.9" y1="113.02" y2="113.02"/>
<line x1="107.0" x2="112.0" y1="126.77" y2="126.77"/>
<line x1="351.5" x2="346.5" y1="126.77" y2="126.77"/>
<line x1="107.0" x2="109.6" y1="140.52" y2="140.52"/>
<line x1="351.5" x2="348.9" y1="140.52" y2="140.52"/>
<line x1="107.0" x2="109.6" y1="154.28" y2="154.28"/>
<line x1="351.5" x2="348.9" y1="154.28" y2="154.28"/>
<line x1="107.0" x2="109.6" y1="168.03" y2="168.03"/>
<line x1="351.5" x2="348.9" y1="168.03" y2="168.03"/>
<line x1="107.0" x2="109.6" y1="181.79" y2="181.79"/>
<line x1="351.5" x2="348.9" y1="181.79" y2="181.79"/>
<line x1="107.0" x2="112.0" y1="195.54" y2="195.54"/>
<line x1="351.5" x2="346.5" y1="195.54" y2="195.54"/>
<line x1="107.0" x2="109.6" y1="209.29" y2="209.29"/>
<line x1="351.5" x2="348.9" y1="209.29" y2="209.29"/>
<line x1="107.0" x2="109.6" y1="223.05" y2="223.05"/>
<line x1="351.5" x2="348.9" y1="223.05" y2="223.05"/>
<line x1="107.0" x2="109.6" y1="236.80" y2="236.80"/>
<line x1="351.5" x2="348.9" y1="236.80" y2="236.80"/>
<line x1="107.0" x2="109.6" y1="250.56" y2="250.56"/>
<line x1="351.5" x2="348.9" y1="250.56" y2="250.56"/>
<line x1="107.0" x2="112.0" y1="264.31" y2="264.31"/>
<line x1="351.5" x2="346.5" y1="264.31" y2="264.31"/>
<line x1="107.0" x2="109.6" y1="278.06" y2="278.06"/>
<line x1="351.5" x2="348.9" y1="278.06" y2="278.06"/>
<line x1="107.0" x2="109.6" y1="291.82" y2="291.82"/>
<line x1="351.5" x2="348.9" y1="291.82" y2="291.82"/>
</g>
<g stroke="#e81010" stroke-width="1.7" fill="none"><line x1="283.75" x2="302.04999999999995" y1="9.6" y2="9.6"/><line x1="293.0" x2="293.0" y1="0.35" y2="18.65"/><line x1="283.75" x2="283.75" y1="6.1" y2="13.0"/><line x1="302.04999999999995" x2="302.04999999999995" y1="6.1" y2="13.0"/><line x1="289.2" x2="296.1" y1="0.35" y2="0.35"/><line x1="289.2" x2="296.1" y1="18.65" y2="18.65"/></g>
<!-- right legend connectors -->
<polyline points="351.8,121.8 359,121.8 366.8,141.5 374.5,141.5" fill="none" stroke="#22e022" stroke-width="1.15"/>
<polyline points="351.8,224.3 359.3,224.3 366.5,151.6 374.2,151.6" fill="none" stroke="#0c0c92" stroke-width="1.15"/>
<polyline points="351.8,254.2 359.3,254.2 366.5,161.4 374.2,161.4" fill="none" stroke="#e81010" stroke-width="1.15"/>
<g opacity="0.999">
<g font-size="8.3" letter-spacing="0.12" stroke-width="0.35">
<text x="378.6" y="144.3" fill="#22e022" stroke="#22e022">2011.8</text>
<text x="378.6" y="154.2" fill="#0c0c92" stroke="#0c0c92">2008.8(V)</text>
<text x="378.6" y="164.2" fill="#e81010" stroke="#e81010">2008.6(V)</text>
</g>
<g font-size="8.3" fill="#666" letter-spacing="0.15">
<text x="374.8" y="63.5">2014.0</text>
<text x="374.8" y="270.0">2008.0</text>
</g>
<g font-size="12" fill="#1a1a1a" letter-spacing="0.45">
<text x="107.20" y="314">0.0</text><text x="164.70" y="314">0.1</text><line x1="156.80" x2="163.60" y1="310.00" y2="310.00" stroke="#1a1a1a" stroke-width="1"/><text x="217.70" y="314">0.2</text><line x1="209.80" x2="216.60" y1="310.00" y2="310.00" stroke="#1a1a1a" stroke-width="1"/><text x="270.70" y="314">0.3</text><line x1="262.80" x2="269.60" y1="310.00" y2="310.00" stroke="#1a1a1a" stroke-width="1"/><text x="323.70" y="314">0.4</text><line x1="315.80" x2="322.60" y1="310.00" y2="310.00" stroke="#1a1a1a" stroke-width="1"/>
<text x="77.3" y="63.10">0.10</text><line x1="69.30" x2="75.80" y1="58.90" y2="58.90" stroke="#1a1a1a" stroke-width="1"/><text x="77.3" y="131.87">0.15</text><line x1="69.30" x2="75.80" y1="127.67" y2="127.67" stroke="#1a1a1a" stroke-width="1"/><text x="77.3" y="200.64">0.20</text><line x1="69.30" x2="75.80" y1="196.44" y2="196.44" stroke="#1a1a1a" stroke-width="1"/><text x="77.3" y="269.41">0.25</text><line x1="69.30" x2="75.80" y1="265.21" y2="265.21" stroke="#1a1a1a" stroke-width="1"/>
<text transform="translate(72.6,327) scale(0.85,1)">HD</text>
<text x="94" y="327">12894</text>
<text x="135" y="327" letter-spacing="0">#1</text>
<text transform="translate(207.7,327) scale(0.80,1)">ΔRA</text>
<text transform="translate(233.60,327) scale(0.8,1)">(</text><line x1="239.50" x2="239.50" y1="319.2" y2="322.0" stroke="#1a1a1a" stroke-width="1"/><line x1="241.90" x2="241.90" y1="319.2" y2="322.0" stroke="#1a1a1a" stroke-width="1"/><text transform="translate(244.90,327) scale(0.8,1)">)</text>
<text transform="translate(59.3,173.1) rotate(-90) scale(0.865,1)">ΔDec</text>
<g transform="translate(59.3,140.4) rotate(-90)"><text transform="translate(0.30,0) scale(0.8,1)">(</text><line x1="6.20" x2="6.20" y1="-7.8" y2="-5.0" stroke="#1a1a1a" stroke-width="1"/><line x1="8.60" x2="8.60" y1="-7.8" y2="-5.0" stroke="#1a1a1a" stroke-width="1"/><text transform="translate(11.60,0) scale(0.8,1)">)</text></g>
</g>
</g>
</svg>
</body></html>
